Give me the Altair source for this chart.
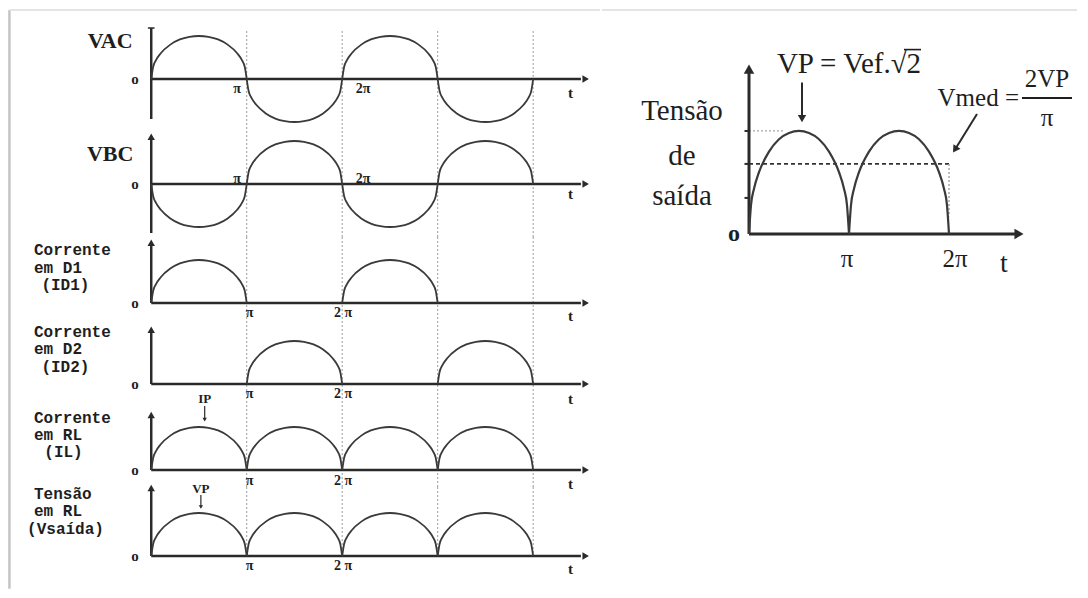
import altair as alt
import pandas as pd

# ---- waveform shape of one half cycle ----
HALF_U = [0, 0.02, 0.05, 0.1, 0.2, 0.3, 0.4, 0.5, 0.6, 0.7, 0.8, 0.9, 0.95, 0.98, 1.0]
HALF_V = [0, 0.28, 0.44, 0.60, 0.80, 0.92, 0.98, 1.0, 0.98, 0.92, 0.80, 0.60, 0.44, 0.28, 0]

# sign of each half cycle (0 = no conduction)
VAC = [1, -1, 1, -1]
VBC = [-1, 1, -1, 1]
ID1 = [1, 0, 1, 0]
ID2 = [0, 1, 0, 1]
IL = [1, 1, 1, 1]
VSAIDA = [1, 1, 1, 1]
VOUT = [1, 1]

GUIDES = [1, 2, 3, 4]          # dotted guides at multiples of pi
RIGHT_TICKS = [1.0, 0.68, 0.35]
VMED = 0.68

AX = "#2a2a2a"
CURVE = "#3a3a3a"
TXT = "#1e1e1e"
GUIDE = "#9c9c9c"
FRAME_SIDE = "#c4c4c4"
FRAME_TOP = "#e4e4e4"


def arches(signs):
    rows = []
    for k, s in enumerate(signs):
        if s == 0:
            continue
        for u, h in zip(HALF_U, HALF_V):
            rows.append({"t": k + u, "v": s * h, "arch": k})
    return pd.DataFrame(rows)


def X(field, sc):
    return alt.X(f"{field}:Q", scale=sc, axis=None)


def Y(field, sc):
    return alt.Y(f"{field}:Q", scale=sc, axis=None)


def texts(rows, sx, sy, **style):
    df = pd.DataFrame(rows, columns=["label", "t", "v"])
    return alt.Chart(df).mark_text(baseline="middle", color=TXT, **style).encode(
        x=X("t", sx), y=Y("v", sy), text="label:N")


def rule(rows, sx, sy, **style):
    df = pd.DataFrame(rows, columns=["t0", "t1", "v0", "v1"])
    return alt.Chart(df).mark_rule(**style).encode(
        x=X("t0", sx), x2="t1:Q", y=Y("v0", sy), y2="v1:Q")


def points(rows, sx, sy, shape, angle=0, size=60):
    df = pd.DataFrame(rows, columns=["t", "v"])
    return alt.Chart(df).mark_point(shape=shape, filled=True, color=AX, opacity=1,
                                    size=size, angle=angle).encode(
        x=X("t", sx), y=Y("v", sy))


LEFT_DOMAIN = [-1.5, 4.7]
LEFT_W = 592

PANELS = [
    dict(signs=VAC, H=122, dom=[-1.209, 1.628], axis=[-0.93, 1.186], arrow=False,
         gtop=1.116, gbot=-1.209, ftop=1.605, fbot=-1.209,
         big=[("VAC", -0.43, 0.88)], lines=[],
         pis=[("π", 0.90, -0.23), ("2π", 2.22, -0.23)], tv=-0.32),
    dict(signs=VBC, H=106, dom=[-1.2326, 1.2326], axis=[-1.14, 1.10], arrow=True,
         gtop=1.2326, gbot=-1.2326, ftop=1.2326, fbot=-1.2326,
         big=[("VBC", -0.43, 0.70)], lines=[],
         pis=[("π", 0.90, 0.12), ("2π", 2.22, 0.12)], tv=-0.23),
    dict(signs=ID1, H=84, dom=[-0.419, 1.535], axis=[0, 1.40], arrow=True,
         gtop=1.535, gbot=-0.419, ftop=1.535, fbot=-0.419, big=[],
         lines=[("Corrente", -1.228, 1.23), ("em D1", -1.228, 0.82), ("(ID1)", -1.15, 0.41)],
         pis=[("π", 1.03, -0.23), ("2 π", 2.01, -0.23)], tv=-0.30),
    dict(signs=ID2, H=80, dom=[-0.395, 1.465], axis=[0, 1.26], arrow=True,
         gtop=1.465, gbot=-0.395, ftop=1.465, fbot=-0.395, big=[],
         lines=[("Corrente", -1.228, 1.21), ("em D2", -1.228, 0.81), ("(ID2)", -1.15, 0.40)],
         pis=[("π", 1.03, -0.23), ("2 π", 2.01, -0.23)], tv=-0.35),
    dict(signs=IL, H=86, dom=[-0.395, 1.605], axis=[0, 1.28], arrow=True,
         gtop=1.605, gbot=-0.395, ftop=1.605, fbot=-0.395, big=[],
         lines=[("Corrente", -1.228, 1.21), ("em RL", -1.228, 0.81), ("(IL)", -1.12, 0.41)],
         pis=[("π", 1.03, -0.26), ("2 π", 2.01, -0.26)], tv=-0.33,
         peak=("IP", 0.56, 1.65, 1.49, 1.17)),
    dict(signs=VSAIDA, H=94, dom=[-0.581, 1.605], axis=[0, 1.58], arrow=True,
         gtop=1.605, gbot=0, ftop=1.605, fbot=-0.76, big=[],
         lines=[("Tensão", -1.228, 1.44), ("em RL", -1.228, 1.04), ("(Vsaída)", -1.30, 0.63)],
         pis=[("π", 1.03, -0.23), ("2 π", 2.01, -0.23)], tv=-0.30,
         peak=("VP", 0.52, 1.56, 1.42, 1.14)),
]


def left_panel(i, p):
    sx = alt.Scale(domain=LEFT_DOMAIN, nice=False, zero=False)
    sy = alt.Scale(domain=p["dom"], nice=False, zero=False)
    layers = []
    # light picture frame
    layers.append(rule([(-1.485, -1.485, p["ftop"] if i else 1.605, p["fbot"])], sx, sy,
                       color=FRAME_SIDE, strokeWidth=2.5))
    if i == 0:
        layers.append(rule([(-1.485, 4.7, 1.605, 1.605)], sx, sy, color=FRAME_TOP,
                           strokeWidth=2))
    layers.append(rule([(g, g, p["gtop"], p["gbot"]) for g in GUIDES], sx, sy,
                       color=GUIDE, strokeDash=[2, 2], strokeWidth=1))
    layers.append(rule([(0, 4.5, 0, 0)], sx, sy, color=AX, strokeWidth=2.5))
    layers.append(rule([(0, 0, p["axis"][0], p["axis"][1])], sx, sy, color=AX, strokeWidth=2.5))
    layers.append(points([(4.55, 0)], sx, sy, "triangle-right", size=55))
    if p["arrow"]:
        layers.append(points([(0, p["axis"][1])], sx, sy, "triangle-up", size=55))
    else:
        layers.append(rule([(-0.035, 0.035, p["axis"][1], p["axis"][1])], sx, sy,
                           color=AX, strokeWidth=1.5))
    layers.append(alt.Chart(arches(p["signs"])).mark_line(
        interpolate="monotone", color=CURVE, strokeWidth=1.8).encode(
        x=X("t", sx), y=Y("v", sy), detail="arch:N"))
    if p["big"]:
        layers.append(texts(p["big"], sx, sy, font="Liberation Serif", fontWeight="bold",
                            fontSize=22, align="center"))
    if p["lines"]:
        layers.append(texts(p["lines"], sx, sy, font="Liberation Mono", fontWeight="bold",
                            fontSize=16, align="left"))
    layers.append(texts(p["pis"], sx, sy, font="Liberation Serif", fontWeight="bold",
                        fontSize=14, align="center"))
    layers.append(texts([("o", -0.17, 0), ("t", 4.39, p["tv"])], sx, sy,
                        font="Liberation Serif", fontWeight="bold", fontSize=15, align="center"))
    if "peak" in p:
        lab, t, vl, v0, v1 = p["peak"]
        layers.append(texts([(lab, t, vl)], sx, sy, font="Liberation Serif",
                            fontWeight="bold", fontSize=13, align="center"))
        layers.append(rule([(t, t, v0, v1)], sx, sy, color=AX, strokeWidth=1.2))
        layers.append(points([(t, v1)], sx, sy, "triangle-down", size=18))
    return alt.layer(*layers).properties(width=LEFT_W, height=p["H"])


def right_panel():
    sx = alt.Scale(domain=[-1.47, 3.28], nice=False, zero=False)
    sy = alt.Scale(domain=[-0.243, 2.184], nice=False, zero=False)
    layers = [
        rule([(-1.47, 3.28, 2.175, 2.175)], sx, sy, color=FRAME_TOP, strokeWidth=2),
        rule([(0, 0.35, 1.0, 1.0)], sx, sy, color="#a8a8a8", strokeDash=[2, 2], strokeWidth=1.2),
        rule([(0, 2, VMED, VMED)], sx, sy, color="#333333", strokeDash=[4, 3], strokeWidth=1.6),
        rule([(2, 2, VMED, 0.17)], sx, sy, color="#a8a8a8", strokeDash=[2, 2], strokeWidth=1.5),
        rule([(0, 2.7, 0, 0)], sx, sy, color=AX, strokeWidth=3),
        rule([(0, 0, 0, 1.58)], sx, sy, color=AX, strokeWidth=3),
        rule([(-0.045, 0, v, v) for v in RIGHT_TICKS], sx, sy, color=AX, strokeWidth=2),
        points([(2.7, 0)], sx, sy, "triangle-right", size=110),
        points([(0, 1.6)], sx, sy, "triangle-up", size=110),
        alt.Chart(arches(VOUT)).mark_line(interpolate="monotone", color=CURVE,
                                          strokeWidth=2.2).encode(
            x=X("t", sx), y=Y("v", sy), detail="arch:N"),
        # arrows
        rule([(0.53, 0.53, 1.47, 1.12)], sx, sy, color=AX, strokeWidth=2),
        points([(0.53, 1.12)], sx, sy, "triangle-down", size=70),
        rule([(2.28, 2.06, 1.165, 0.82)], sx, sy, color=AX, strokeWidth=2),
        points([(2.06, 0.82)], sx, sy, "triangle-down", angle=33, size=70),
        # fraction bar and root vinculum
        rule([(2.73, 3.23, 1.32, 1.32)], sx, sy, color=TXT, strokeWidth=2),
        rule([(1.55, 1.72, 1.79, 1.79)], sx, sy, color=TXT, strokeWidth=1.6),
        texts([("VP = Vef.√2", 1.0, 1.65)], sx, sy, font="Liberation Serif", fontSize=29,
              align="center"),
        texts([("Vmed =", 2.70, 1.32)], sx, sy, font="Liberation Serif", fontSize=25,
              align="right"),
        texts([("2VP", 2.98, 1.50), ("π", 2.98, 1.13)], sx, sy, font="Liberation Serif",
              fontSize=25, align="center"),
        texts([("Tensão", -0.67, 1.19), ("de", -0.67, 0.76), ("saída", -0.67, 0.37)], sx, sy,
              font="Liberation Serif", fontSize=29, align="center"),
        texts([("o", -0.15, 0.0)], sx, sy, font="Liberation Serif", fontSize=24,
              fontWeight="bold", align="center"),
        texts([("π", 0.98, -0.24), ("2π", 2.06, -0.24)], sx, sy, font="Liberation Serif",
              fontSize=25, align="center"),
        texts([("t", 2.55, -0.29)], sx, sy, font="Liberation Serif", fontSize=28,
              align="center"),
    ]
    return alt.layer(*layers).properties(width=475, height=250)


left = alt.vconcat(*[left_panel(i, p) for i, p in enumerate(PANELS)], spacing=0,
                   bounds="flush").resolve_scale(x="independent", y="independent")
chart = alt.hconcat(left, right_panel(), spacing=0).resolve_scale(
    x="independent", y="independent").properties(padding=0, background="white").configure_view(
    stroke=None)

chart.save("out.html", embed_options={"renderer": "svg", "actions": False})
